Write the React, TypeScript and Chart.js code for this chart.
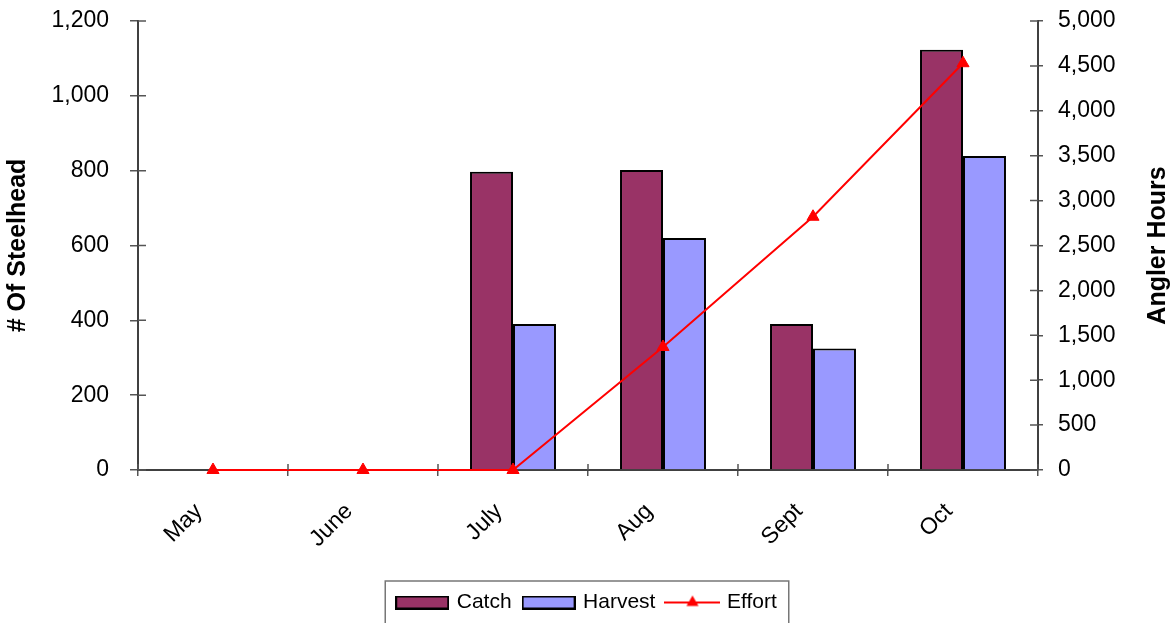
import React, { useEffect, useRef } from 'react';
import { Chart, registerables } from 'chart.js';

Chart.register(...registerables);

// Monthly steelhead catch, harvest and angler effort
const months = ['May', 'June', 'July', 'Aug', 'Sept', 'Oct'];
const catchCounts = [null, null, 797, 802, 390, 1123];
const harvestCounts = [null, null, 390, 620, 325, 839];
const effortHours = [0, 0, 0, 1370, 2820, 4530];

const fishAxisMax = 1200;
const fishAxisStep = 200;
const hoursAxisMax = 5000;
const hoursAxisStep = 500;

const CATCH_COLOR = '#993366';
const HARVEST_COLOR = '#9999FF';
const EFFORT_COLOR = '#FF0000';
const AXIS_COLOR = '#404040';
const FONT = "'Liberation Sans', Arial, sans-serif";

function barIcon(fill: string): HTMLCanvasElement {
  const c = document.createElement('canvas');
  c.width = 54;
  c.height = 14;
  const g = c.getContext('2d')!;
  g.fillStyle = fill;
  g.fillRect(1, 1, 52, 12);
  g.strokeStyle = '#000';
  g.lineWidth = 2;
  g.strokeRect(1, 1, 52, 12);
  return c;
}

function lineIcon(color: string): HTMLCanvasElement {
  const c = document.createElement('canvas');
  c.width = 56;
  c.height = 16;
  const g = c.getContext('2d')!;
  g.strokeStyle = color;
  g.lineWidth = 2;
  g.beginPath();
  g.moveTo(0, 8);
  g.lineTo(56, 8);
  g.stroke();
  const r = 7;
  g.fillStyle = color;
  g.beginPath();
  g.moveTo(28, 8 - r);
  g.lineTo(28 + r * Math.sin((2 * Math.PI) / 3), 8 - r * Math.cos((2 * Math.PI) / 3));
  g.lineTo(28 + r * Math.sin((4 * Math.PI) / 3), 8 - r * Math.cos((4 * Math.PI) / 3));
  g.closePath();
  g.fill();
  return c;
}

// Short tick marks on the inner side of each axis line
const innerTicks = {
  id: 'innerTicks',
  afterDraw(chart: any) {
    const { ctx, chartArea } = chart;
    const { left, right, bottom } = chartArea;
    ctx.save();
    ctx.strokeStyle = '#555';
    ctx.lineWidth = 1.5;
    ctx.beginPath();
    const y = chart.scales.y;
    y.ticks.forEach((_: any, i: number) => {
      const p = y.getPixelForTick(i);
      ctx.moveTo(left, p);
      ctx.lineTo(left + 8, p);
    });
    const y1 = chart.scales.y1;
    y1.ticks.forEach((_: any, i: number) => {
      const p = y1.getPixelForTick(i);
      ctx.moveTo(right - 8, p);
      ctx.lineTo(right, p);
    });
    const x = chart.scales.x;
    const n = x.ticks.length;
    const w = (right - left) / n;
    for (let i = 0; i <= n; i++) {
      const p = left + i * w;
      ctx.moveTo(p, bottom);
      ctx.lineTo(p, bottom - 6);
    }
    ctx.stroke();
    ctx.restore();
  },
};

// Right-hand axis title, reading upward
const rightTitle = {
  id: 'rightTitle',
  afterDraw(chart: any) {
    const { ctx, chartArea } = chart;
    const s = chart.scales.y1;
    ctx.save();
    ctx.translate(s.right - 17, (chartArea.top + chartArea.bottom) / 2);
    ctx.rotate(-Math.PI / 2);
    ctx.font = `bold 25px ${FONT}`;
    ctx.fillStyle = '#000';
    ctx.textAlign = 'center';
    ctx.textBaseline = 'middle';
    ctx.fillText('Angler Hours', 0, 0);
    ctx.restore();
  },
};

// Frame around the legend entries
const legendFrame = {
  id: 'legendFrame',
  afterDraw(chart: any) {
    const boxes = chart.legend?.legendHitBoxes;
    if (!boxes || !boxes.length) return;
    const { ctx } = chart;
    const l = Math.min(...boxes.map((b: any) => b.left)) - 13;
    const r = Math.max(...boxes.map((b: any) => b.left + b.width)) + 12;
    const t = boxes[0].top - 11;
    ctx.save();
    ctx.strokeStyle = '#777';
    ctx.lineWidth = 1.5;
    ctx.strokeRect(l, t, r - l, chart.height + 10 - t);
    ctx.restore();
  },
};

// Keep the vertical axes from reserving room above/below the plot for their labels
const noLabelOverhang = (s: any) => {
  s.paddingTop = 0;
  s.paddingBottom = 0;
};

export default function App() {
  const canvasRef = useRef<HTMLCanvasElement | null>(null);

  useEffect(() => {
    const canvas = canvasRef.current;
    if (!canvas) return;
    const icons = [barIcon(CATCH_COLOR), barIcon(HARVEST_COLOR), lineIcon(EFFORT_COLOR)];
    const tickFont = { family: FONT, size: 23 };

    const chart = new Chart(canvas, {
      type: 'bar',
      data: {
        labels: months,
        datasets: [
          {
            label: 'Catch',
            data: catchCounts,
            backgroundColor: CATCH_COLOR,
            borderColor: '#000',
            borderWidth: 2,
            categoryPercentage: 0.573,
            barPercentage: 1,
            yAxisID: 'y',
            order: 1,
          },
          {
            label: 'Harvest',
            data: harvestCounts,
            backgroundColor: HARVEST_COLOR,
            borderColor: '#000',
            borderWidth: 2,
            categoryPercentage: 0.573,
            barPercentage: 1,
            yAxisID: 'y',
            order: 1,
          },
          {
            type: 'line',
            label: 'Effort',
            data: effortHours,
            borderColor: EFFORT_COLOR,
            borderWidth: 2,
            backgroundColor: EFFORT_COLOR,
            pointStyle: 'triangle',
            pointRadius: 7,
            pointBackgroundColor: EFFORT_COLOR,
            pointBorderColor: EFFORT_COLOR,
            pointBorderWidth: 1,
            tension: 0,
            yAxisID: 'y1',
            order: -1,
            clip: false,
          } as any,
        ],
      },
      options: {
        responsive: false,
        animation: false,
        devicePixelRatio: 1,
        layout: { padding: { top: 21, left: 0, right: 0, bottom: 0 } },
        plugins: {
          tooltip: { enabled: false },
          legend: {
            position: 'bottom',
            labels: {
              usePointStyle: true,
              pointStyleWidth: 48,
              padding: 13,
              color: '#000',
              font: { family: FONT, size: 21 },
              generateLabels: (c: any) => {
                const items = Chart.defaults.plugins.legend.labels.generateLabels(c);
                items.sort((a: any, b: any) => a.datasetIndex - b.datasetIndex);
                return items.map((it: any) => ({ ...it, pointStyle: icons[it.datasetIndex], fontColor: '#000' }));
              },
            },
          },
        },
        scales: {
          x: {
            offset: true,
            grid: { offset: true, drawOnChartArea: false, tickLength: 6, color: '#555', lineWidth: 1.5 },
            border: { color: AXIS_COLOR, width: 2 },
            ticks: {
              font: tickFont,
              color: '#000',
              minRotation: 45,
              maxRotation: 45,
              padding: 22,
              labelOffset: -14,
            },
            afterFit: (s: any) => {
              s.height = 109;
            },
          },
          y: {
            position: 'left',
            min: 0,
            max: fishAxisMax,
            ticks: { stepSize: fishAxisStep, font: tickFont, color: '#000', padding: 21 },
            grid: { drawOnChartArea: false, tickLength: 8, color: '#555', lineWidth: 1.5 },
            border: { color: AXIS_COLOR, width: 2 },
            title: {
              display: true,
              text: '# Of Steelhead',
              color: '#000',
              font: { family: FONT, size: 25, weight: 'bold' },
              padding: { top: 3, bottom: 0 },
            },
            afterFit: (s: any) => {
              s.width = 138;
              noLabelOverhang(s);
            },
          },
          y1: {
            position: 'right',
            min: 0,
            max: hoursAxisMax,
            ticks: { stepSize: hoursAxisStep, font: tickFont, color: '#000', padding: 15 },
            grid: { drawOnChartArea: false, tickLength: 5, color: '#555', lineWidth: 1.5 },
            border: { color: AXIS_COLOR, width: 2 },
            afterFit: (s: any) => {
              s.width = 137;
              noLabelOverhang(s);
            },
          },
        },
      },
      plugins: [innerTicks, rightTitle, legendFrame],
    });

    return () => chart.destroy();
  }, []);

  return (
    <div style={{ width: 1175, height: 623, background: '#fff' }}>
      <style>{'body{margin:0;background:#fff;}'}</style>
      <canvas ref={canvasRef} width={1175} height={623} style={{ display: 'block' }} />
    </div>
  );
}
